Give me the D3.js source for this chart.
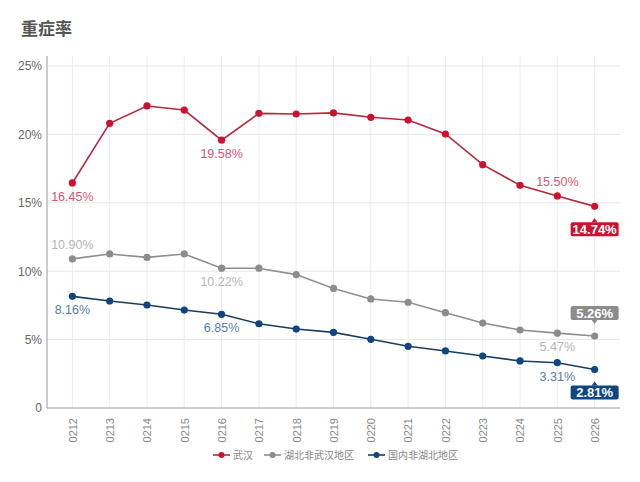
<!DOCTYPE html>
<html><head><meta charset="utf-8">
<script src="https://cdn.jsdelivr.net/npm/d3@7"></script>
<style>
html,body{margin:0;padding:0;background:#fff;}
svg{display:block;font-family:"Liberation Sans","Noto Sans CJK SC",sans-serif;}
</style></head>
<body>
<svg id="c" width="640" height="482"></svg>
<script>
const title = "重症率";
const dates = ["0212","0213","0214","0215","0216","0217","0218","0219","0220","0221","0222","0223","0224","0225","0226"];
const wuhan = [16.45,20.81,22.08,21.78,19.58,21.54,21.49,21.57,21.25,21.05,20.03,17.79,16.28,15.50,14.74];
const hubeiOther = [10.90,11.26,11.01,11.26,10.22,10.22,9.75,8.74,7.97,7.73,6.97,6.21,5.70,5.47,5.26];
const nationOther = [8.16,7.82,7.53,7.16,6.85,6.16,5.77,5.53,5.02,4.51,4.17,3.80,3.44,3.31,2.81];
const seriesNames = ["武汉","湖北非武汉地区","国内非湖北地区"];
const yTicks = [0,5,10,15,20,25];
// labelled points: [series index, category index, position]
const plainLabels = [[0,0,"below"],[0,4,"below"],[0,13,"above"],[1,0,"above"],[1,4,"below"],[1,13,"below"],[2,0,"below"],[2,4,"below"],[2,13,"below"]];
const boxLabels = [[0,14,"below"],[1,14,"above"],[2,14,"below"]];

const colors = ["#cf1130","#8c8c8c","#0e467f"];
const lineColors = ["#b32a3c","#8f8f8f","#1c3d5e"];
const labelColors = ["#d4566f","#b5b5b5","#5a7ea6"];
const allSeries = [wuhan, hubeiOther, nationOther];

const svg = d3.select("#c");
const pLeft = 47, pRight = 620, pTop = 56, pBottom = 408;
const x = d3.scalePoint().domain(dates).range([pLeft, pRight]).padding(0.68);
const y = d3.scaleLinear().domain([0,25]).range([pBottom, 66]);

svg.append("text").attr("x",21).attr("y",35).text(title)
  .attr("font-size",17).attr("font-weight","bold").attr("fill","#555");

// grid
const g = svg.append("g");
g.selectAll(".hg").data(yTicks.filter(d=>d>0)).join("line")
  .attr("x1",pLeft).attr("x2",pRight).attr("y1",d=>y(d)).attr("y2",d=>y(d))
  .attr("stroke","#e6e6e6").attr("stroke-width",1);
g.selectAll(".vg").data(dates).join("line")
  .attr("x1",d=>x(d)).attr("x2",d=>x(d)).attr("y1",pTop).attr("y2",pBottom)
  .attr("stroke","#ececec").attr("stroke-width",1);

// y axis
const yAxis = svg.append("g").attr("transform",`translate(${pLeft},0)`)
  .call(d3.axisLeft(y).tickValues(yTicks).tickSize(0).tickPadding(5).tickFormat(d=>d===0?"0":d+"%"));
yAxis.select(".domain").attr("stroke","#9a9a9a").attr("d",`M0,${pTop}V${pBottom}`);
yAxis.selectAll("text").attr("font-size",12).attr("fill","#666").attr("font-family","Liberation Sans, sans-serif");

// x axis
const xAxis = svg.append("g").attr("transform",`translate(0,${pBottom})`)
  .call(d3.axisBottom(x).tickSize(0).tickPadding(0));
xAxis.select(".domain").attr("stroke","#9a9a9a").attr("d",`M${pLeft},0H${pRight}`);
xAxis.selectAll("text").attr("font-size",11).attr("fill","#888")
  .attr("font-family","Liberation Sans, sans-serif")
  .attr("transform","rotate(-90)").attr("text-anchor","end")
  .attr("dy","0.35em").attr("x",-10).attr("y",0);

// lines and points
const line = d3.line().x((d,i)=>x(dates[i])).y(d=>y(d));
allSeries.forEach((s,si)=>{
  svg.append("path").datum(s).attr("d",line).attr("fill","none")
    .attr("stroke",lineColors[si]).attr("stroke-width",1.6);
  svg.append("g").selectAll("circle").data(s).join("circle")
    .attr("cx",(d,i)=>x(dates[i])).attr("cy",d=>y(d)).attr("r",3.6)
    .attr("fill",colors[si]);
});

// plain labels
plainLabels.forEach(([si,ci,pos])=>{
  const v = allSeries[si][ci];
  svg.append("text").attr("x",x(dates[ci]))
    .attr("y", y(v) + (pos==="below"? 18 : -10))
    .attr("text-anchor","middle").attr("font-size",12.5)
    .attr("fill",labelColors[si]).text(v.toFixed(2)+"%");
});

// boxed labels
boxLabels.forEach(([si,ci,pos])=>{
  const v = allSeries[si][ci];
  const cx = x(dates[ci]), py = y(v);
  const w = 48, h = 14;
  const by = pos==="below" ? py + 16 : py - 16 - h;
  const gg = svg.append("g");
  gg.append("rect").attr("x",cx-w/2).attr("y",by).attr("width",w).attr("height",h)
    .attr("rx",2).attr("fill",colors[si]);
  if(pos==="below"){
    gg.append("path").attr("d",`M${cx-3},${by}L${cx},${by-4}L${cx+3},${by}Z`).attr("fill",colors[si]);
  } else {
    gg.append("path").attr("d",`M${cx-3},${by+h}L${cx},${by+h+4}L${cx+3},${by+h}Z`).attr("fill",colors[si]);
  }
  gg.append("text").attr("x",cx).attr("y",by+h/2).attr("dy","0.36em")
    .attr("text-anchor","middle").attr("font-size",13).attr("font-weight","bold")
    .attr("fill","#fff").text(v.toFixed(2)+"%");
});

// legend
const legendX = [213, 264, 368];
const lg = svg.append("g").attr("transform","translate(0,455)");
seriesNames.forEach((n,i)=>{
  const gx = legendX[i];
  lg.append("line").attr("x1",gx).attr("x2",gx+17).attr("y1",0).attr("y2",0)
    .attr("stroke",lineColors[i]).attr("stroke-width",1.6);
  lg.append("circle").attr("cx",gx+8.5).attr("cy",0).attr("r",3).attr("fill",colors[i]);
  lg.append("text").attr("x",gx+20).attr("y",0).attr("dy","0.35em")
    .attr("font-size",10).attr("fill","#888")
    .attr("font-family","Noto Sans CJK SC, sans-serif").text(n);
});
</script>
</body></html>
